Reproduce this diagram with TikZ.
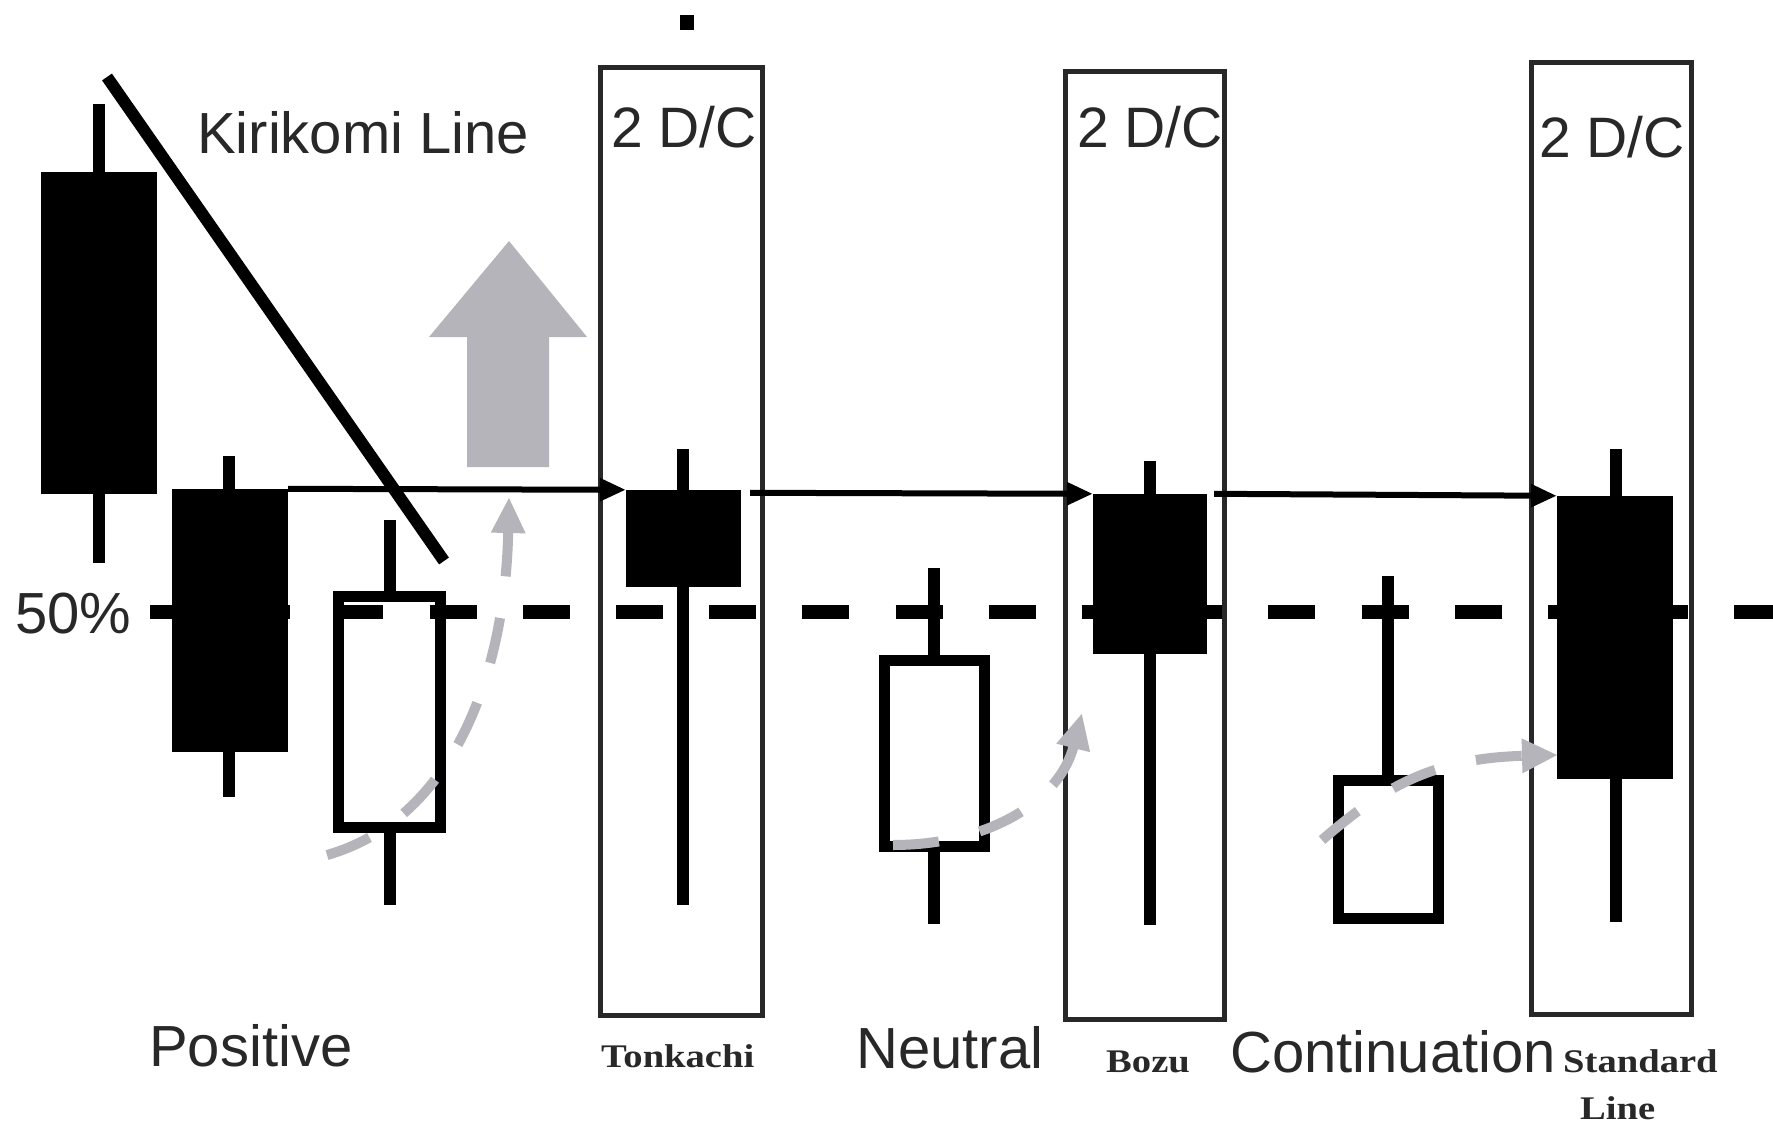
\documentclass[tikz,border=0pt]{standalone}
\usepackage{fontspec}
\setmainfont{Liberation Sans}
\newfontfamily\serifw[FakeStretch=1.17]{Liberation Serif}
\usetikzlibrary{arrows.meta}
\definecolor{agray}{RGB}{180,180,186}
\definecolor{ink}{RGB}{40,40,40}
\begin{document}
\begin{tikzpicture}[x=1pt,y=-1pt,
  blackbody/.style={rectangle, fill=black, draw=none, inner sep=0pt},
  whitebody/.style={rectangle, fill=white, draw=black, line width=11pt, inner sep=0pt},
  wick/.style={line width=12pt, black},
  dcbox/.style={rectangle, draw=ink, line width=5pt, inner sep=0pt},
  flowarrow/.style={line width=6pt, black, -{Triangle[length=26pt,width=22pt]}},
  halfline/.style={line width=14pt, black, dash pattern=on 47pt off 46.2pt},
  graytrail/.style={line width=10pt, agray, dash pattern=on 46pt off 42pt, -{Triangle[length=36pt,width=32pt]}},
  kiri/.style={line width=12pt, black},
  sanslab/.style={anchor=base west, inner sep=0pt, text=ink, font=\fontsize{58}{62}\selectfont},
  seriflab/.style={anchor=base west, inner sep=0pt, text=ink, font=\serifw\bfseries\fontsize{33}{36}\selectfont}]
\useasboundingbox[fill=white] (0,0) rectangle (1773,1130);

% 2 D/C boxes
\node[dcbox, minimum width=162pt, minimum height=948pt] (box1) at (681,541) {};
\node[dcbox, minimum width=159pt, minimum height=948pt] (box2) at (1144.5,545) {};
\node[dcbox, minimum width=160pt, minimum height=952pt] (box3) at (1611,538) {};

% big gray arrow
\fill[agray] (467,467) -- (467,337) -- (429,337) -- (509,241) -- (587,337) -- (549,337) -- (549,467) -- cycle;

% wicks
\draw[wick] (99,104) -- (99,563);
\draw[wick] (229,456) -- (229,797);
\draw[wick] (390,520) -- (390,905);
\draw[wick] (683,449) -- (683,905);
\draw[wick] (934,568) -- (934,924);
\draw[wick] (1150,461) -- (1150,925);
\draw[wick] (1388,576) -- (1388,800);
\draw[wick] (1616,449) -- (1616,922);

% candle bodies
\node[blackbody, minimum width=116pt, minimum height=322pt] (c1) at (99,333) {};
\node[blackbody, minimum width=116pt, minimum height=263pt] (c2) at (230,620.5) {};
\node[whitebody, minimum width=102pt, minimum height=231pt] (c3) at (389.5,712) {};
\node[blackbody, minimum width=115pt, minimum height=97pt] (ton) at (683.5,538.5) {};
\node[whitebody, minimum width=100pt, minimum height=186pt] (neu) at (934.5,753.5) {};
\node[blackbody, minimum width=114pt, minimum height=160pt] (bozu) at (1150,574) {};
\node[whitebody, minimum width=100pt, minimum height=138pt] (cont) at (1388.5,849.5) {};
\node[blackbody, minimum width=116pt, minimum height=283pt] (std) at (1615,637.5) {};

% solid flow arrows
\draw[flowarrow] (c2.north east) -- (ton.north west);
\draw[flowarrow] ([xshift=9pt,yshift=-3pt]ton.north east) -- (bozu.north west);
\draw[flowarrow] ([xshift=7pt]bozu.north east) -- (std.north west);

% 50% dashed line
\coordinate (h0) at (150,612);
\coordinate (h1) at (1773,612);
\draw[halfline] (h0) -- (h1);

% gray dashed trails
\coordinate (g1s) at (327,855);
\coordinate (g1e) at (509,497);
\draw[graytrail] (g1s) .. controls (450,820) and (505,680) .. (g1e);
\coordinate (g2s) at (893,845);
\coordinate (g2e) at (1082,713);
\draw[graytrail] (g2s) .. controls (990,845) and (1060,800) .. (g2e);
\coordinate (g3s) at (1322,840);
\coordinate (g3e) at (1558,755);
\draw[graytrail] (g3s) .. controls (1380,790) and (1430,758) .. (g3e);

% Kirikomi line
\coordinate (k0) at (107,77);
\coordinate (k1) at (444,561);
\draw[kiri] (k0) -- (k1);

% small dot
\fill[black] (680,15) rectangle (694,30);

% labels
\node[sanslab] (kl) at (197,153) {Kirikomi Line};
\node[sanslab, font=\fontsize{57}{60}\selectfont] (d1) at (611,147) {2 D/C};
\node[sanslab, font=\fontsize{57}{60}\selectfont] (d2) at (1077,147) {2 D/C};
\node[sanslab, font=\fontsize{57}{60}\selectfont] (d3) at (1539,157) {2 D/C};
\node[sanslab] (pct) at (15,633) {50\%};
\node[sanslab] (pos) at (149,1066) {Positive};
\node[sanslab] (neut) at (856,1068) {Neutral};
\node[sanslab] (cnt) at (1230,1072) {Continuation};
\node[seriflab] (tk) at (601,1067) {Tonkachi};
\node[seriflab] (bz) at (1106,1072) {Bozu};
\node[seriflab] (sd) at (1563,1072) {Standard};
\node[seriflab] (ln) at (1580,1119) {Line};
\end{tikzpicture}
\end{document}
